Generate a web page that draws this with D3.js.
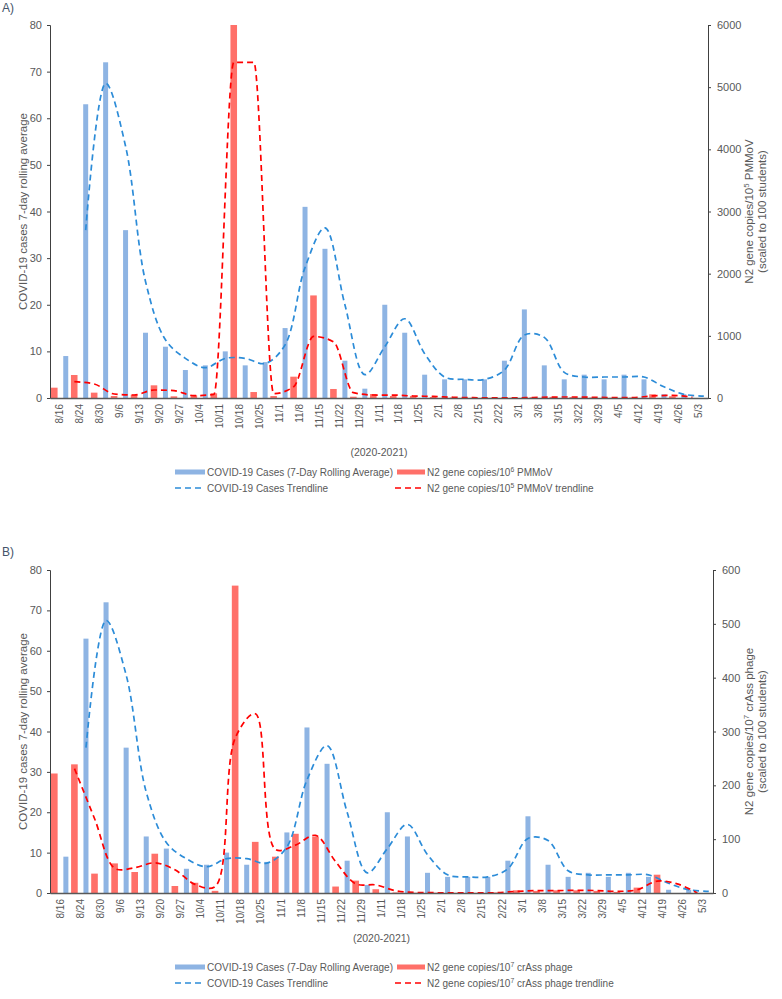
<!DOCTYPE html>
<html><head><meta charset="utf-8">
<script src="https://cdn.jsdelivr.net/npm/d3@7"></script>
<style>
body{margin:0;background:#fff}
svg{display:block}
text{font-family:"Liberation Sans",Arial,sans-serif}
</style>
</head><body>
<svg id="c" width="782" height="999"></svg>
<script>
// ---------- data ----------
const categories = ["8/16","8/24","8/30","9/6","9/13","9/20","9/27","10/4","10/11","10/18","10/25","11/1","11/8","11/15","11/22","11/29","1/11","1/18","1/25","2/1","2/8","2/15","2/22","3/1","3/8","3/15","3/22","3/29","4/5","4/12","4/19","4/26","5/3"];
// COVID-19 cases, 7-day rolling average (left axis, both panels)
const cases = [9,63,72,36,14,11,6,7,10,7,7.7,15,41,32,8,2,20,14,5,4,4,4,8,19,7,4,5,4,5,4,0.8,0.8,0];
const casesTrend = [null,36,67.5,54,25,12.5,8.5,6.5,8.5,8.5,7.4,11.4,28,36.5,20,5,11,17,9.5,4.5,4,4,6,13.5,13,5.5,4.5,4.5,4.5,4.5,2.4,0.8,0.4];
// Panel A: N2 gene copies / 10^5 PMMoV (right axis)
const pmmov = [166,370,86,32,54,204,27,43,75,10700,96,32,343,1650,145,21,64,32,34,16,8,3,2,4,12,18,15,8,4,8,60,28,0];
const pmmovTrend = [null,262,225,64,48,129,118,37,59,5400,5400,70,182,990,905,86,48,47,32,25,12,5,3,3,8,15,16,12,6,6,34,42,12];
// Panel B: N2 gene copies / 10^7 crAss phage (right axis)
const crass = [222,239,36,55,39,73,13,19,4,571,95,67.5,110,105,12,23,7,1,0.5,0.5,0.3,0.3,1,5,4,5,5,4,2,10,34,0,0];
const crassTrend = [null,231,138,46,47,56,43,16,12,288,333,81,89,107,58,17,15,4,1,0.5,0.4,0.3,0.6,3,4.5,4.5,5,4.5,3,6,22,17,0];
// tick labels
const leftTicks = [0,10,20,30,40,50,60,70,80];
const pmmovTicks = [0,1000,2000,3000,4000,5000,6000];
const crassTicks = [0,100,200,300,400,500,600];

// ---------- style ----------
const BLUE_BAR = "#8EB4E3", RED_BAR = "#FF7069", BLUE_LINE = "#2C8CD8", RED_LINE = "#FF0000";
const TXT = "#595959";

const svg = d3.select("#c");

function richText(sel, parts) {
  sel.append("tspan").text(parts[0]);
  sel.append("tspan").attr("dy", -4).attr("font-size", "0.68em").text(parts[1]);
  sel.append("tspan").attr("dy", 4).text(parts[2]);
}

function panel(cfg) {
  const g = svg.append("g");
  const x = d3.scaleBand().domain(categories).range([cfg.left, cfg.right]).padding(0);
  const bw = x.bandwidth();
  const yL = d3.scaleLinear().domain([0, 80]).range([cfg.bottom, cfg.top]);
  const yR = d3.scaleLinear().domain([0, cfg.redMax]).range([cfg.bottom, cfg.top]).clamp(true);

  g.append("text").attr("x", 2).attr("y", cfg.labelY).attr("dy", "0.35em")
    .attr("font-size", 12).attr("fill", "#44546A").text(cfg.label);

  g.append("g").selectAll("rect").data(cfg.red).join("rect")
    .attr("x", (d, i) => x(categories[i]) + bw * 0.05)
    .attr("width", bw * 0.33)
    .attr("y", d => yR(d))
    .attr("height", d => yR(0) - yR(d))
    .attr("fill", RED_BAR);
  g.append("g").selectAll("rect").data(cases).join("rect")
    .attr("x", (d, i) => x(categories[i]) + bw * 0.665)
    .attr("width", bw * 0.25)
    .attr("y", d => yL(d))
    .attr("height", d => yL(0) - yL(d))
    .attr("fill", BLUE_BAR);

  const blueLine = d3.line()
    .defined(d => d != null)
    .x((d, i) => x(categories[i]) + bw * 0.79)
    .y(d => yL(d))
    .curve(d3.curveCatmullRom);
  const redLine = d3.line()
    .defined(d => d != null)
    .x((d, i) => x(categories[i]) + bw * 0.22)
    .y(d => yR(d))
    .curve(cfg.redCurve);
  g.append("path").attr("d", blueLine(casesTrend)).attr("fill", "none")
    .attr("stroke", BLUE_LINE).attr("stroke-width", 1.7).attr("stroke-dasharray", "6,4");
  g.append("path").attr("d", redLine(cfg.redTrend)).attr("fill", "none")
    .attr("stroke", RED_LINE).attr("stroke-width", 1.7).attr("stroke-dasharray", "6,4");

  const fmt = d3.format("d");
  const ax = g.append("g").attr("transform", `translate(${cfg.left},0)`)
    .call(d3.axisLeft(yL).tickValues(leftTicks).tickFormat(fmt).tickSize(3).tickPadding(5));
  ax.select(".domain").attr("stroke", "#404040");
  ax.selectAll(".tick line").attr("stroke", "#404040");
  ax.selectAll("text").attr("font-size", 11).attr("fill", TXT).attr("font-family", "Liberation Sans, Arial, sans-serif");

  const ar = g.append("g").attr("transform", `translate(${cfg.right},0)`)
    .call(d3.axisRight(yR).tickValues(cfg.redTicks).tickFormat(fmt).tickSize(3).tickPadding(6));
  ar.select(".domain").attr("stroke", "#404040");
  ar.selectAll(".tick line").attr("stroke", "#404040");
  ar.selectAll("text").attr("font-size", 11).attr("fill", TXT).attr("font-family", "Liberation Sans, Arial, sans-serif");

  const ab = g.append("g").attr("transform", `translate(0,${cfg.bottom})`)
    .call(d3.axisBottom(x).tickSize(0).tickPadding(0));
  ab.select(".domain").attr("stroke", "#595959").attr("stroke-width", 1.5);
  ab.selectAll("text")
    .attr("font-size", 10).attr("fill", TXT).attr("font-family", "Liberation Sans, Arial, sans-serif")
    .attr("text-anchor", "end")
    .attr("transform", "translate(0,6) rotate(-90)")
    .attr("x", 0).attr("y", 0).attr("dy", "0.35em");

  const mid = (cfg.top + cfg.bottom) / 2;
  g.append("text").attr("transform", `translate(23,${mid}) rotate(-90)`)
    .attr("text-anchor", "middle").attr("dy", "0.35em")
    .attr("font-size", 11.5).attr("fill", TXT).text("COVID-19 cases 7-day rolling average");
  const rt = g.append("text").attr("transform", `translate(749,${mid}) rotate(-90)`)
    .attr("text-anchor", "middle").attr("dy", "0.35em")
    .attr("font-size", 11.5).attr("fill", TXT);
  richText(rt, cfg.rightTitle);
  g.append("text").attr("transform", `translate(762,${mid}) rotate(-90)`)
    .attr("text-anchor", "middle").attr("dy", "0.35em")
    .attr("font-size", 11.5).attr("fill", TXT).text("(scaled to 100 students)");

  g.append("text").attr("x", (cfg.left + cfg.right) / 2).attr("y", cfg.xTitleY).attr("dy", "0.35em")
    .attr("text-anchor", "middle").attr("font-size", 10.5).attr("fill", TXT).text("(2020-2021)");

  const [r1, r2] = cfg.legY;
  g.append("rect").attr("x", 175).attr("y", r1 - 2.5).attr("width", 30).attr("height", 5).attr("fill", BLUE_BAR);
  g.append("text").attr("x", 207).attr("y", r1).attr("dy", "0.35em").attr("font-size", 10).attr("fill", TXT)
    .text("COVID-19 Cases (7-Day Rolling Average)");
  g.append("rect").attr("x", 397).attr("y", r1 - 2.5).attr("width", 28).attr("height", 5).attr("fill", RED_BAR);
  const l2 = g.append("text").attr("x", 427).attr("y", r1).attr("dy", "0.35em").attr("font-size", 10).attr("fill", TXT);
  richText(l2, cfg.legendRed);
  g.append("line").attr("x1", 175).attr("x2", 205).attr("y1", r2).attr("y2", r2)
    .attr("stroke", BLUE_LINE).attr("stroke-width", 1.7).attr("stroke-dasharray", "6,4");
  g.append("text").attr("x", 207).attr("y", r2).attr("dy", "0.35em").attr("font-size", 10).attr("fill", TXT)
    .text("COVID-19 Cases Trendline");
  g.append("line").attr("x1", 395).attr("x2", 422).attr("y1", r2).attr("y2", r2)
    .attr("stroke", RED_LINE).attr("stroke-width", 1.7).attr("stroke-dasharray", "6,4");
  const l4 = g.append("text").attr("x", 427).attr("y", r2).attr("dy", "0.35em").attr("font-size", 10).attr("fill", TXT);
  richText(l4, cfg.legendRedTrend);
}

panel({
  label: "A)", labelY: 8, top: 25, bottom: 398, left: 50, right: 708,
  red: pmmov, redTrend: pmmovTrend, redMax: 6000, redTicks: pmmovTicks, redCurve: d3.curveMonotoneX,
  rightTitle: ["N2 gene copies/10", "5", " PMMoV"],
  legendRed: ["N2 gene copies/10", "6", " PMMoV"],
  legendRedTrend: ["N2 gene copies/10", "5", " PMMoV trendline"],
  xTitleY: 452, legY: [472, 488]
});
panel({
  label: "B)", labelY: 552, top: 570, bottom: 893, left: 50, right: 713,
  red: crass, redTrend: crassTrend, redMax: 600, redTicks: crassTicks, redCurve: d3.curveCatmullRom,
  rightTitle: ["N2 gene copies/10", "7", " crAss phage"],
  legendRed: ["N2 gene copies/10", "7", " crAss phage"],
  legendRedTrend: ["N2 gene copies/10", "7", " crAss phage trendline"],
  xTitleY: 938, legY: [967, 983]
});
</script>
</body></html>
